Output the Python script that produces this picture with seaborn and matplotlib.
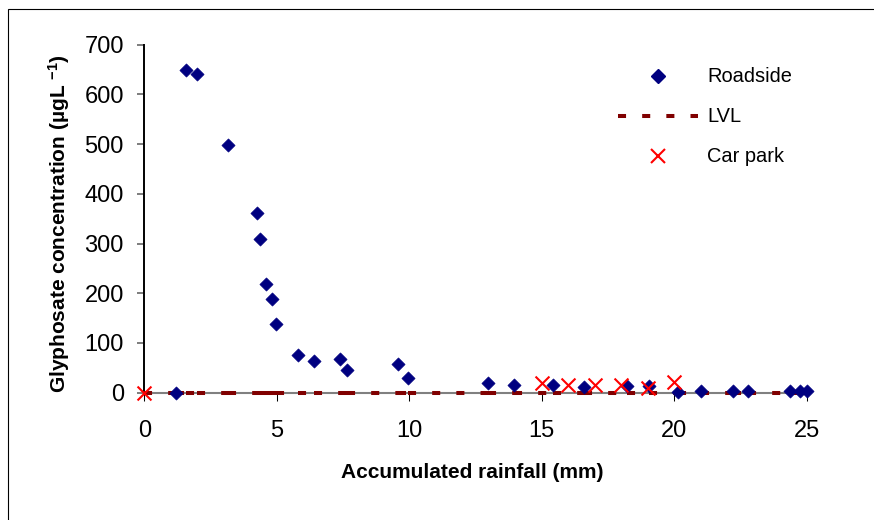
import matplotlib
matplotlib.use("Agg")
import matplotlib.pyplot as plt
from matplotlib.lines import Line2D
from matplotlib.patches import Rectangle
import seaborn as sns
import pandas as pd

# ---------------- data ----------------
roadside_x = [1.21, 1.57, 1.98, 3.17, 4.24, 4.37, 4.59, 4.83, 4.98, 5.81, 6.42, 7.38, 7.64,
              9.58, 9.96, 12.98, 13.96, 15.41, 16.6, 18.2, 19.03, 20.15, 21.0, 22.2, 22.8,
              24.37, 24.75, 25.0]
roadside_y = [0, 649, 641, 498, 361, 310, 218, 189, 138, 76, 63, 67, 46,
              58, 29, 20, 16, 16, 11, 13, 14, 2, 3, 3, 3,
              3, 3, 3]
carpark_x = [0, 15.0, 16.0, 17.0, 18.0, 19.0, 20.0]
carpark_y = [0, 20, 16, 16, 16, 10, 21]
lvl_x = [0, 1.21, 1.57, 1.98, 3.17, 4.24, 4.37, 4.59, 4.83, 4.98, 5.81, 6.42, 7.38, 7.64,
         9.58, 9.96, 12.98, 13.96, 15.41, 16.6, 18.2, 19.03, 20.15, 21.0, 22.2, 22.8,
         24.37, 24.75, 25.0]
lvl_y = [0] * len(lvl_x)
x_ticks = [0, 5, 10, 15, 20, 25]
y_ticks = [0, 100, 200, 300, 400, 500, 600, 700]
series_labels = ["Roadside", "LVL", "Car park"]

# ---------------- style ----------------
sns.set_style("white")
plt.rcParams["font.family"] = ["Liberation Sans", "DejaVu Sans"]
plt.rcParams["mathtext.fontset"] = "custom"
plt.rcParams["mathtext.rm"] = "Liberation Sans:bold"
plt.rcParams["mathtext.default"] = "rm"
plt.rcParams["text.color"] = "black"
plt.rcParams["axes.labelcolor"] = "black"

NAVY = "#000080"
DKRED = "#800000"
RED = "#FF0000"
GRAY = "#808080"

W, H = 874, 520
fig = plt.figure(figsize=(W / 100, H / 100), dpi=100)
fig.patch.set_facecolor("white")
ax = fig.add_axes([144.3 / W, (H - 392.7) / H, 662.4 / W, 348.0 / H])

# LVL line: one dashed segment between each consecutive pair of x values
seg_rows = []
for i in range(len(lvl_x) - 1):
    seg_rows.append({"x": lvl_x[i], "y": lvl_y[i], "seg": i})
    seg_rows.append({"x": lvl_x[i + 1], "y": lvl_y[i + 1], "seg": i})
lvl_df = pd.DataFrame(seg_rows)

road_df = pd.DataFrame({"x": roadside_x, "y": roadside_y})
car_df = pd.DataFrame({"x": carpark_x, "y": carpark_y})

LVL_LW = 2.9
LVL_DASH = (0, (2, 4))

sns.lineplot(data=lvl_df, x="x", y="y", units="seg", estimator=None, ax=ax,
             color=DKRED, linewidth=LVL_LW, linestyle=LVL_DASH, legend=False,
             zorder=3, clip_on=False, sort=False)
sns.scatterplot(data=road_df, x="x", y="y", ax=ax, marker="D", s=46, color=NAVY,
                edgecolor=NAVY, linewidth=0.4, legend=False, zorder=4, clip_on=False)
sns.scatterplot(data=car_df, x="x", y="y", ax=ax, marker="x", s=100, color=RED,
                linewidth=1.5, legend=False, zorder=5, clip_on=False)

ax.set_xlim(0, 25)
ax.set_ylim(0, 700)
ax.set_xticks(x_ticks)
ax.set_yticks(y_ticks)
ax.set_xticklabels([str(v) for v in x_ticks])
ax.set_yticklabels([str(v) for v in y_ticks])

for s in ["top", "right"]:
    ax.spines[s].set_visible(False)
ax.spines["left"].set_color("black")
ax.spines["left"].set_linewidth(1.4)
ax.spines["bottom"].set_color(GRAY)
ax.spines["bottom"].set_linewidth(1.5)
ax.spines["bottom"].set_zorder(2)

ax.tick_params(axis="y", direction="out", length=5.3, width=1.44, color=GRAY,
               pad=9.4, labelsize=17, labelcolor="black", left=True)
ax.tick_params(axis="x", direction="out", length=5.8, width=0.75, color="black",
               pad=13.5, labelsize=17, labelcolor="black", bottom=True)

ax.set_xlabel("Accumulated rainfall (mm)", fontsize=15, fontweight="bold")
ax.set_ylabel("Glyphosate concentration (µgL $^{-1}$)", fontsize=15, fontweight="bold")
ax.xaxis.set_label_coords((472.5 - 144.3) / 662.4, (392.7 - 473) / 348.0)
ax.xaxis.label.set_va("center")
ax.yaxis.set_label_coords((59 - 144.3) / 662.4, (392.7 - 224) / 348.0)
ax.yaxis.label.set_va("center")

handles = [
    Line2D([], [], marker="D", ls="none", color=NAVY, markersize=6.8, mec=NAVY),
    Line2D([], [], color=DKRED, lw=LVL_LW, ls=LVL_DASH, dash_capstyle="butt"),
    Line2D([], [], marker="x", ls="none", color=RED, markersize=10, mew=1.5),
]
ax.legend(handles, series_labels, loc="upper left",
          bbox_to_anchor=(618 / W, 1 - 67.5 / H), bbox_transform=fig.transFigure,
          frameon=False, fontsize=14.4, handlelength=4.0, handletextpad=0.45,
          labelspacing=1.05, borderpad=0, borderaxespad=0, labelcolor="black")

# outer chart border
fig.patches.append(Rectangle((8.0 / W, -0.1), 1.2, (H - 9.0) / H + 0.1,
                             transform=fig.transFigure, fill=False,
                             edgecolor="black", linewidth=0.8))

fig.savefig("out.png", dpi=100, facecolor="white")
